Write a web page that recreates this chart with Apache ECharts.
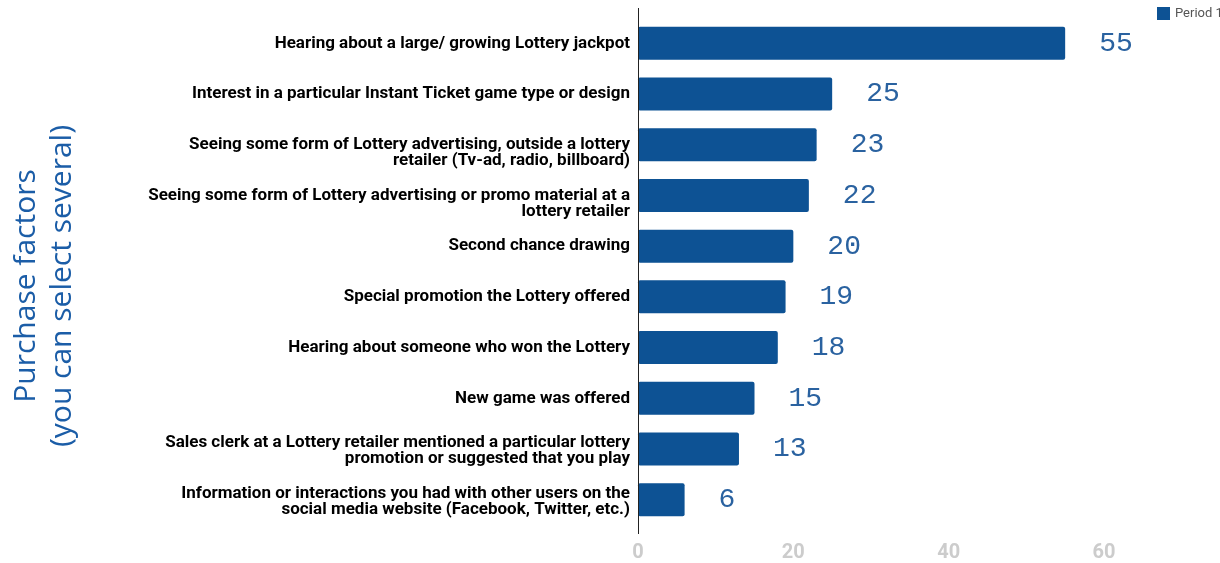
<!DOCTYPE html>
<html>
<head>
<meta charset="utf-8">
<script src="https://cdn.jsdelivr.net/npm/echarts@6/dist/echarts.min.js"></script>
<style>html,body{margin:0;padding:0;background:#fff}#c{width:1220px;height:563px}</style>
</head>
<body>
<div id="c"></div>
<script>
var categories = [
  "Hearing about a large/ growing Lottery jackpot",
  "Interest in a particular Instant Ticket game type or design",
  "Seeing some form of Lottery advertising, outside a lottery\nretailer (Tv-ad, radio, billboard)",
  "Seeing some form of Lottery advertising or promo material at a\nlottery retailer",
  "Second chance drawing",
  "Special promotion the Lottery offered",
  "Hearing about someone who won the Lottery",
  "New game was offered",
  "Sales clerk at a Lottery retailer mentioned a particular lottery\npromotion or suggested that you play",
  "Information or interactions you had with other users on the\nsocial media website (Facebook, Twitter, etc.)"
];
var period1 = [55, 25, 23, 22, 20, 19, 18, 15, 13, 6];
var xTicks = [0, 20, 40, 60];
var seriesName = "Period 1";
var axisTitle = "Purchase factors\n(you can select several)";

// small per-label vertical nudges (style only): name of a rich spacer style
var labelSpacer = { 2: 'p16', 3: 'p16', 8: 'p4', 9: 'p4' };

var chart = echarts.init(document.getElementById('c'));
chart.setOption({
  animation: false,
  backgroundColor: '#fff',
  legend: {
    data: [seriesName],
    left: 1152, top: 2,
    itemWidth: 13, itemHeight: 13, itemGap: 6,
    icon: 'rect',
    textStyle: { color: '#555', fontSize: 13, fontFamily: 'Roboto' }
  },
  grid: { left: 638, right: 116, top: 18, bottom: 36, containLabel: false },
  xAxis: {
    type: 'value', min: xTicks[0], max: xTicks[xTicks.length - 1], interval: 20,
    splitLine: { show: false },
    axisLine: { show: false }, axisTick: { show: false },
    axisLabel: { color: '#cccccc', fontSize: 20, fontWeight: 'bold', fontFamily: 'Roboto', margin: 18 }
  },
  yAxis: {
    type: 'category', data: categories, inverse: true,
    axisLine: { show: true, lineStyle: { color: '#222', width: 1 } },
    axisTick: { show: false },
    axisLabel: {
      color: '#000', fontSize: 17, fontWeight: 'bold', fontFamily: 'Roboto', margin: 8, lineHeight: 16, align: 'right',
      formatter: function (v, i) {
        var s = labelSpacer[i];
        return s ? '{' + s + '| }\n' + v : v;
      },
      rich: {
        p16: { fontSize: 1, lineHeight: 16 },
        p4: { fontSize: 1, lineHeight: 4 }
      }
    }
  },
  graphic: [
    { type: 'line', shape: { x1: 638.5, y1: 8, x2: 638.5, y2: 534 }, style: { stroke: '#222', lineWidth: 1 }, z: 10 },
    { type: 'text', x: 44, y: 286, rotation: Math.PI / 2,
      style: { text: axisTitle, fill: '#1b5da7', fontSize: 30, fontFamily: 'Open Sans', fontWeight: 'normal',
               align: 'center', verticalAlign: 'middle', lineHeight: 36 } }
  ],
  series: [{
    name: seriesName, type: 'bar', data: period1,
    barWidth: '65%',
    itemStyle: { color: '#0d5294', borderRadius: 2 },
    label: { show: true, position: 'right', distance: 34, color: '#2a62a0', fontSize: 28,
             fontFamily: 'Liberation Mono' }
  }]
});
</script>
</body>
</html>
